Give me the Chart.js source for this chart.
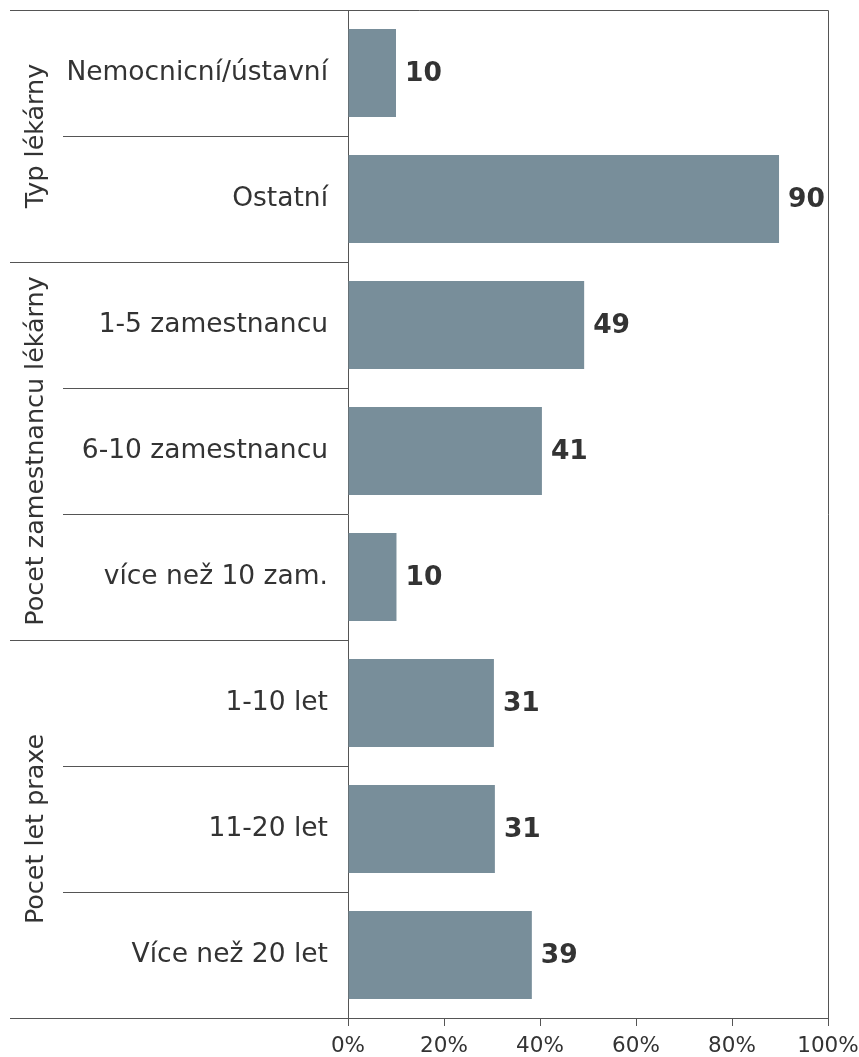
<!DOCTYPE html>
<html>
<head>
<meta charset="utf-8">
<script src="https://cdn.jsdelivr.net/npm/chart.js@4.4.1/dist/chart.umd.min.js"></script>
<style>
  html, body { margin: 0; padding: 0; background: #fff; }
  #wrap { width: 859px; height: 1057px; }
</style>
</head>
<body>
<div id="wrap"><canvas id="chart" width="859" height="1057"></canvas></div>
<script>
// Data
const categories = ['Nemocnicní/ústavní', 'Ostatní', '1-5 zamestnancu', '6-10 zamestnancu',
    'více než 10 zam.', '1-10 let', '11-20 let', 'Více než 20 let'];
const values = [10, 89.8, 49.2, 40.4, 10.1, 30.4, 30.6, 38.3];
const valueLabels = ['10', '90', '49', '41', '10', '31', '31', '39'];
const groups = ['Typ lékárny', 'Pocet zamestnancu lékárny', 'Pocet let praxe'];
const groupSizes = [2, 3, 3];

const FONT = '"DejaVu Sans", Verdana, sans-serif';
const TEXT = '#333333';
const LINE = '#555555';
Chart.defaults.font.family = FONT;
Chart.defaults.color = TEXT;

// separators, frame, group titles, value labels
const decorations = {
    id: 'decorations',
    afterDraw(chart) {
        const ctx = chart.ctx;
        const area = chart.chartArea;
        const y = chart.scales.y;
        const half = (y.getPixelForValue(1) - y.getPixelForValue(0)) / 2;

        ctx.save();
        ctx.strokeStyle = LINE;
        ctx.lineWidth = 1;

        // frame top / right / bottom
        ctx.beginPath();
        ctx.moveTo(10, area.top + 0.5);
        ctx.lineTo(area.right + 0.5, area.top + 0.5);
        ctx.lineTo(area.right + 0.5, area.bottom);
        ctx.moveTo(10, area.bottom + 0.5);
        ctx.lineTo(area.left, area.bottom + 0.5);
        ctx.stroke();

        // row separators
        const groupEnds = [];
        let acc = 0;
        groupSizes.forEach(n => { acc += n; groupEnds.push(acc); });
        for (let i = 1; i < categories.length; i++) {
            const py = Math.round(y.getPixelForValue(i) - half) + 0.5;
            const left = groupEnds.includes(i) ? 10 : 63;
            ctx.beginPath();
            ctx.moveTo(left, py);
            ctx.lineTo(area.left, py);
            ctx.stroke();
        }

        // group titles (rotated)
        ctx.fillStyle = TEXT;
        ctx.font = '25.4px ' + FONT;
        ctx.textAlign = 'center';
        ctx.textBaseline = 'middle';
        let start = 0;
        groups.forEach((g, gi) => {
            const end = start + groupSizes[gi] - 1;
            const top = y.getPixelForValue(start) - half;
            const bottom = y.getPixelForValue(end) + half;
            ctx.save();
            ctx.translate(36, (top + bottom) / 2);
            ctx.rotate(-Math.PI / 2);
            ctx.fillText(g, 0, 0);
            ctx.restore();
            start += groupSizes[gi];
        });

        // value labels
        ctx.font = 'bold 26.5px ' + FONT;
        ctx.textAlign = 'left';
        const meta = chart.getDatasetMeta(0);
        meta.data.forEach((bar, i) => {
            ctx.fillText(valueLabels[i], bar.x + 9, bar.y + 1);
        });
        ctx.restore();
    }
};

new Chart(document.getElementById('chart').getContext('2d'), {
    type: 'bar',
    data: {
        labels: categories,
        datasets: [{
            data: values,
            backgroundColor: '#788E9A',
            borderWidth: 0,
            categoryPercentage: 0.7,
            barPercentage: 1.0
        }]
    },
    options: {
        indexAxis: 'y',
        responsive: false,
        animation: false,
        layout: { padding: { top: 10, right: 31, left: 0, bottom: 0 } },
        plugins: {
            legend: { display: false },
            tooltip: { enabled: false }
        },
        scales: {
            x: {
                min: 0,
                max: 100,
                afterFit(scale) {
                    scale.height = 39;
                    scale.paddingLeft = 0;
                    scale.paddingRight = 0;
                },
                ticks: {
                    stepSize: 20,
                    color: TEXT,
                    font: { size: 21.5 },
                    padding: 8,
                    callback: v => v + '%'
                },
                grid: {
                    drawOnChartArea: false,
                    drawTicks: true,
                    tickLength: 8,
                    color: LINE
                },
                border: { display: true, color: LINE, width: 1 }
            },
            y: {
                afterFit(scale) {
                    scale.width = 348;
                    scale.paddingTop = 0;
                    scale.paddingBottom = 0;
                },
                ticks: {
                    color: TEXT,
                    font: { size: 26.5 },
                    padding: 20
                },
                grid: { display: false, drawTicks: false },
                border: { display: true, color: LINE, width: 1 }
            }
        }
    },
    plugins: [decorations]
});
</script>
</body>
</html>
